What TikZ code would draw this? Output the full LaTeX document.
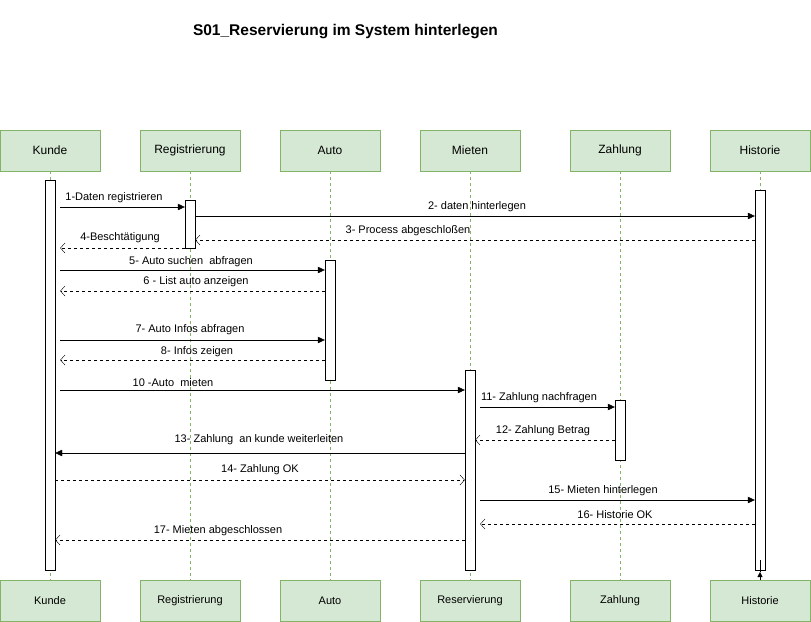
\documentclass[tikz,border=0pt]{standalone}
\usepackage{fontspec}
\setmainfont{Liberation Sans}
\usepackage{tikz}
\usetikzlibrary{positioning,arrows.meta}
\definecolor{boxfill}{HTML}{D5E8D4}
\definecolor{boxline}{HTML}{82B366}
\tikzset{
  actor/.style   = {draw=boxline, fill=boxfill, minimum width=100pt,
                    minimum height=41pt, font=\fontsize{12}{14}\selectfont},
  actor end/.style = {actor, font=\fontsize{11}{13}\selectfont},
  life/.style    = {draw=boxline, dash pattern=on 3pt off 3pt},
  act/.style     = {draw, fill=white, minimum width=10pt, inner sep=0pt},
  call/.style    = {-{Triangle[length=7pt,width=6.5pt]}},
  reply/.style   = {dash pattern=on 3pt off 3pt,
                    -{Straight Barb[length=4.5pt,width=10pt]}},
  from gap/.style = {shorten <=5pt},
  to gap/.style  = {shorten >=5pt},
  lbl/.style     = {font=\fontsize{11}{13}\selectfont, inner sep=0pt}
}

\begin{document}
\begin{tikzpicture}[x=1pt, y=-1pt]
      \useasboundingbox (0,0) rectangle (811,621);
      \node[font=\bfseries\fontsize{15.5}{18}\selectfont] (title) at (345.5,32)
        {S01\_Reservierung im System hinterlegen};
      % Lebenslinien oben
      \node[actor] (kunde) at (50,150.5)  {Kunde};
      \node[actor] (reg)   at (190,150.5) {Registrierung};
      \node[actor] (auto)  at (330,150.5) {Auto};
      \node[actor] (miet)  at (470,150.5) {Mieten};
      \node[actor] (zahl)  at (620,150.5) {Zahlung};
      \node[actor] (hist)  at (760,150.5) {Historie};
      % unten
      \node[actor end] (kundeB) at (50,600.5)  {Kunde};
      \node[actor end] (regB)   at (190,600.5) {Registrierung};
      \node[actor end] (autoB)  at (330,600.5) {Auto};
      \node[actor end] (mietB)  at (470,600.5) {Reservierung};
      \node[actor end] (zahlB)  at (620,600.5) {Zahlung};
      \node[actor end] (histB)  at (760,600.5) {Historie};
      \foreach \a in {kunde,reg,auto,miet,zahl,hist}
        \draw[life] (\a) -- (\a B);
      % Aktivierungen
      \node[act, minimum height=390pt] (kundeA) at (50,375)  {};
      \node[act, minimum height=48pt]  (regA)   at (190,224) {};
      \node[act, minimum height=120pt] (autoA)  at (330,320) {};
      \node[act, minimum height=200pt] (mietA)  at (470,470) {};
      \node[act, minimum height=60pt]  (zahlA)  at (620,430) {};
      \node[act, minimum height=380pt] (histA)  at (760,380) {};
      % Nachrichten
      \draw[call, from gap] (kundeA.east |- 0,207) -- (regA.west |- 0,207);
      \node[lbl] (m1) at (114,198) {1-Daten registrieren};
      \draw[call]  (regA.east |- 0,216) -- (histA.west |- 0,216);
      \node[lbl] (m2) at (477,207) {2- daten hinterlegen};
      \draw[reply] (histA.west |- 0,240) -- (regA.east |- 0,240);
      \node[lbl] (m3) at (408,231) {3- Process abgeschloßen};
      \draw[reply, to gap] (regA.west |- 0,248) -- (kundeA.east |- 0,248);
      \node[lbl] (m4) at (120,238) {4-Beschtätigung};
      \draw[call, from gap]  (kundeA.east |- 0,270) -- (autoA.west |- 0,270);
      \node[lbl] (m5) at (191,262) {5- Auto suchen\ \ abfragen};
      \draw[reply, to gap] (autoA.west |- 0,291) -- (kundeA.east |- 0,291);
      \node[lbl] (m6) at (196,282) {6 - List auto anzeigen};
      \draw[call, from gap]  (kundeA.east |- 0,340) -- (autoA.west |- 0,340);
      \node[lbl] (m7) at (190,330) {7- Auto Infos abfragen};
      \draw[reply, to gap] (autoA.west |- 0,360) -- (kundeA.east |- 0,360);
      \node[lbl] (m8) at (197,352) {8- Infos zeigen};
      \draw[call, from gap]  (kundeA.east |- 0,390) -- (mietA.west |- 0,390);
      \node[lbl] (m10) at (173,383) {10 -Auto\ \ mieten};
      \draw[call, from gap]  (mietA.east |- 0,407) -- (zahlA.west |- 0,407);
      \node[lbl] (m11) at (539,398) {11- Zahlung nachfragen};
      \draw[reply] (zahlA.west |- 0,440) -- (mietA.east |- 0,440);
      \node[lbl] (m12) at (543,431) {12- Zahlung Betrag};
      \draw[call]  (mietA.west |- 0,453) -- (kundeA.east |- 0,453);
      \node[lbl] (m13) at (259,440) {13- Zahlung\ \ an kunde weiterleiten};
      \draw[reply] (kundeA.east |- 0,480) -- (mietA.west |- 0,480);
      \node[lbl] (m14) at (260,470) {14- Zahlung OK};
      \draw[call, from gap]  (mietA.east |- 0,500) -- (histA.west |- 0,500);
      \node[lbl] (m15) at (603,491) {15- Mieten hinterlegen};
      \draw[reply, to gap] (histA.west |- 0,524) -- (mietA.east |- 0,524);
      \node[lbl] (m16) at (615,515) {16- Historie OK};
      \draw[reply] (mietA.west |- 0,540) -- (kundeA.east |- 0,540);
      \node[lbl] (m17) at (218,531) {17- Mieten abgeschlossen};
      % kleiner Pfeil an Historie
      \coordinate (hTip) at (760,572);
      \coordinate (hEnd) at (760,560);
      \draw[-{Triangle[length=5pt,width=5pt]}] (histB.north) -- (hTip);
      \draw (hTip) -- (hEnd);
\end{tikzpicture}
\end{document}
